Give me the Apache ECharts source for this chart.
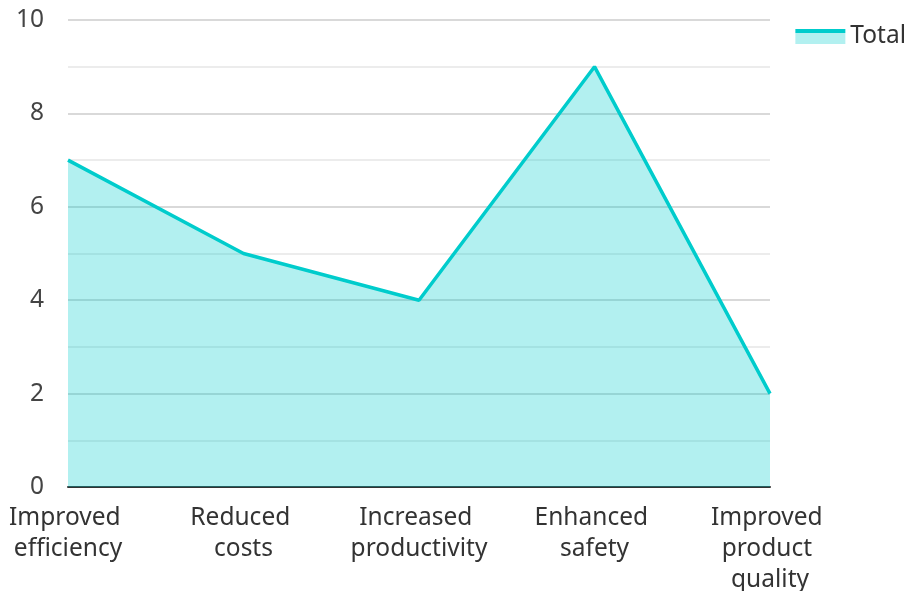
<!DOCTYPE html>
<html>
<head>
<meta charset="utf-8">
<script src="https://cdn.jsdelivr.net/npm/echarts@6/dist/echarts.min.js"></script>
<style>
  html, body { margin: 0; padding: 0; background: #fff; }
  #chart { width: 911px; height: 591px; }
</style>
</head>
<body>
<div id="chart"></div>
<script>
// Benefits and their scores
const categories = ['Improved efficiency', 'Reduced costs', 'Increased productivity', 'Enhanced safety', 'Improved product quality'];
const totalValues = [7, 5, 4, 9, 2];
const seriesName = 'Total';

const lineColor = '#00cccc';
const areaColor = '#b2f0f0';
const fontFamily = '"Noto Sans", "Open Sans", sans-serif';

const chart = echarts.init(document.getElementById('chart'));
chart.setOption({
  animation: false,
  grid: { left: 68, right: 141, top: 20, bottom: 104, outerBoundsMode: 'none', containLabel: false },
  legend: {
    right: 0,
    top: 19,
    itemWidth: 50,
    itemHeight: 15,
    itemGap: 9,
    icon: 'rect',
    textStyle: { fontSize: 24.5, color: '#333', fontFamily: fontFamily },
    data: [{
      name: seriesName,
      itemStyle: {
        color: new echarts.graphic.LinearGradient(0, 0, 0, 1, [
          { offset: 0, color: lineColor },
          { offset: 0.24, color: lineColor },
          { offset: 0.24, color: areaColor },
          { offset: 1, color: areaColor }
        ])
      }
    }]
  },
  xAxis: {
    type: 'category',
    data: categories,
    boundaryGap: false,
    axisLine: { lineStyle: { color: '#333', width: 2 } },
    axisTick: { show: false },
    axisLabel: {
      interval: 0,
      margin: 16,
      fontSize: 24.5,
      lineHeight: 31,
      color: '#333',
      fontFamily: fontFamily,
      width: 145,
      overflow: 'break'
    }
  },
  yAxis: {
    type: 'value',
    min: 0,
    max: 10,
    interval: 2,
    axisLine: { show: false },
    axisTick: { show: false },
    axisLabel: { fontSize: 24.5, color: '#444', margin: 24, fontFamily: fontFamily },
    splitLine: { lineStyle: { color: '#cccccc', width: 1.5 } },
    minorTick: { show: false, splitNumber: 2 },
    minorSplitLine: { show: true, lineStyle: { color: '#e6e6e6', width: 1.5 } }
  },
  series: [{
    name: seriesName,
    type: 'line',
    data: totalValues,
    symbol: 'none',
    lineStyle: { color: lineColor, width: 3.5 },
    itemStyle: { color: lineColor },
    areaStyle: { color: lineColor, opacity: 0.3 }
  }]
});
</script>
</body>
</html>
